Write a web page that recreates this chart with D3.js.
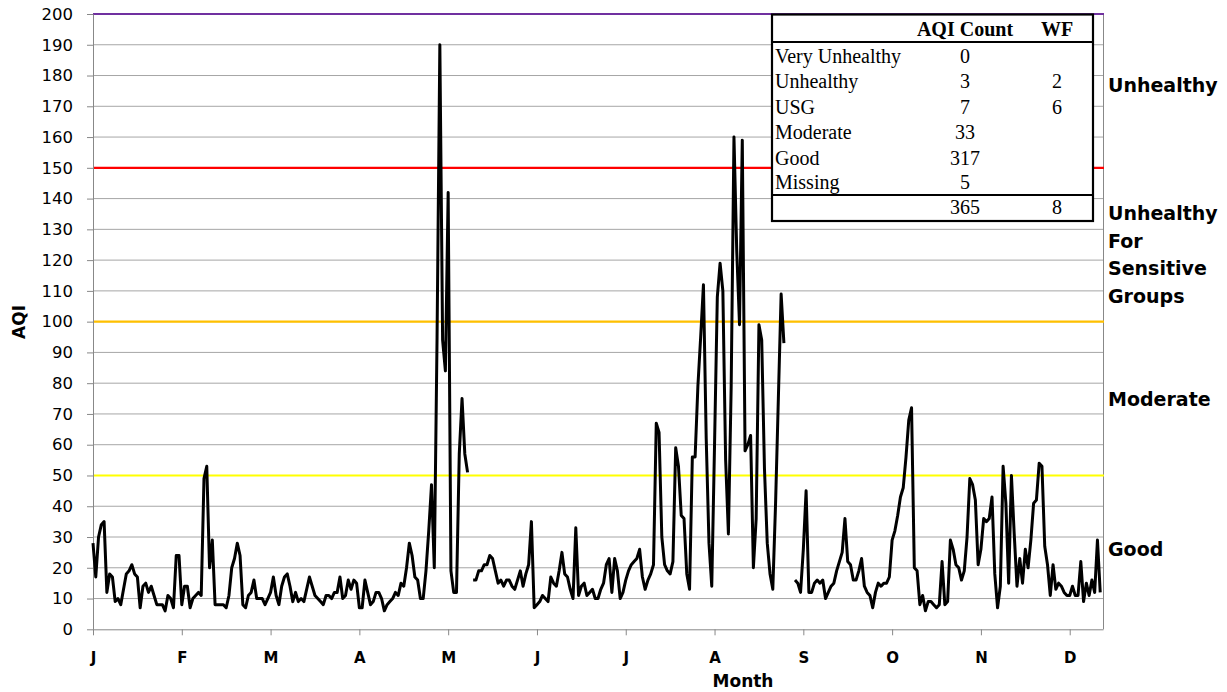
<!DOCTYPE html>
<html><head><meta charset="utf-8">
<script src="https://cdn.jsdelivr.net/npm/d3@7"></script>
<style>
html,body{margin:0;padding:0;background:#fff;}
svg{display:block;}
</style></head>
<body>
<svg id="chart" width="1227" height="692"></svg>
<script>
// ---- data ----
const aqi = [
28,17,30,34,35,12,18,17,9,10, 8,13,18,19,21,18,17,7,14,15,
12,14,11,8,8,8,6,11,10,7, 24,24,8,14,14,7,10,11,12,11,
49,53,20,29,8,8,8,8,7,11, 20,23,28,24,8,7,11,12,16,10,
10,10,8,10,12,17,11,8,14,17, 18,14,9,12,9,10,9,13,17,14,
11,10,9,8,11,11,10,12,12,17, 10,11,16,13,16,15,7,7,16,12,
8,9,12,12,10,6,8,9,10,12, 11,15,14,20,28,24,17,16,10,10,
19,32,47,20,95,190,94,84,142,19, 12,12,57,75,57,51,null,16,16,19,
19,21,21,24,23,19,15,16,14,16, 16,14,13,16,19,14,18,21,35,7,
8,9,11,10,9,17,15,14,19,25, 18,17,13,10,33,11,14,15,11,12,
13,10,10,13,15,21,23,12,23,19, 10,12,16,19,21,22,23,26,17,13,
16,18,21,67,64,30,21,19,18,22, 59,53,37,36,18,13,56,56,79,95,
112,62,28,14,60,108,119,110,55,31, 79,160,123,99,159,58,60,63,20,36,
99,94,52,28,18,13,41,75,109,93, null,null,null,16,15,12,26,45,12,12,
15,16,15,16,10,12,14,15,19,22, 25,36,22,21,16,16,19,23,14,12,
11,7,12,15,14,15,15,17,29,32, 37,43,46,56,68,72,20,19,8,11,
6,9,9,8,7,8,22,8,9,29, 26,21,20,16,19,30,49,47,42,21,
26,36,35,36,43,18,7,14,53,41, 15,50,31,14,23,15,26,20,29,41,
42,54,53,27,21,11,21,13,15,14, 12,11,11,14,11,11,22,9,15,11,
16,12,29,12,null
];
const tickDays = [0,32,64,96,128,160,192,224,256,288,320,352];
const tickLabels = ["J","F","M","A","M","J","J","A","S","O","N","D"];
const yTicks = d3.range(0,201,10);
const thresholdValues = [50,100,150,200];
const thresholdColors = ["#FFFF00","#FFC000","#FF0000","#7030A0"];
const tableCats = ["Very Unhealthy","Unhealthy","USG","Moderate","Good","Missing"];
const tableCounts = ["0","3","7","33","317","5"];
const tableWF = ["","2","6","","",""];
const tableTotals = ["365","8"];
const sideLabels = [
  {lines:["Unhealthy"], v:177},
  {lines:["Unhealthy","For","Sensitive","Groups"], v:121.8},
  {lines:["Moderate"], v:75},
  {lines:["Good"], v:26}
];

// ---- scales ----
const svg = d3.select("#chart");
const pL = 93, pR = 1103, pT = 14, pB = 629.3;
const x = d3.scaleLinear().domain([0, 364]).range([pL, pR]);
const y = d3.scaleLinear().domain([0, 200]).range([pB, pT]);

// gridlines
svg.append("g").selectAll("line").data(yTicks.filter(v => v > 0 && v < 200))
  .join("line")
  .attr("x1", pL).attr("x2", pR)
  .attr("y1", d => y(d)).attr("y2", d => y(d))
  .attr("stroke", "#a6a6a6").attr("stroke-width", 1);

// right border
svg.append("line").attr("x1", pR + 0.5).attr("x2", pR + 0.5)
  .attr("y1", pT).attr("y2", pB).attr("stroke", "#888").attr("stroke-width", 1);

// threshold lines
svg.append("g").selectAll("line").data(thresholdValues)
  .join("line")
  .attr("x1", pL).attr("x2", pR + 1)
  .attr("y1", d => y(d)).attr("y2", d => y(d))
  .attr("stroke", (d, i) => thresholdColors[i]).attr("stroke-width", 2.2);

// y axis
const yAxis = svg.append("g").attr("transform", `translate(${pL},0)`)
  .call(d3.axisLeft(y).tickValues(yTicks).tickSize(6).tickPadding(14).tickSizeOuter(0));
yAxis.select(".domain").attr("stroke", "#888");
yAxis.selectAll(".tick line").attr("stroke", "#888");
yAxis.selectAll(".tick text").attr("font-family", "DejaVu Sans").attr("font-size", "16.5px").attr("fill", "#000");

// x axis
const xAxis = svg.append("g").attr("transform", `translate(0,${pB})`)
  .call(d3.axisBottom(x).tickValues(tickDays).tickFormat((d, i) => tickLabels[i]).tickSize(6).tickSizeOuter(0).tickPadding(17));
xAxis.select(".domain").attr("stroke", "#888");
xAxis.selectAll(".tick line").attr("stroke", "#888");
xAxis.selectAll(".tick text").attr("font-family", "DejaVu Sans").attr("font-weight", "bold")
  .attr("font-size", "15px").attr("fill", "#000");

// data line
const line = d3.line().defined(d => d != null).x((d, i) => x(i)).y(d => y(d));
svg.append("path").datum(aqi).attr("d", line)
  .attr("fill", "none").attr("stroke", "#000").attr("stroke-width", 3)
  .attr("stroke-linejoin", "round");

// axis titles
svg.append("text").attr("x", 743).attr("y", 687).attr("text-anchor", "middle")
  .attr("font-family", "DejaVu Sans").attr("font-weight", "bold").attr("font-size", "17px").text("Month");
svg.append("text").attr("transform", "translate(25,322) rotate(-90)").attr("text-anchor", "middle")
  .attr("font-family", "DejaVu Sans").attr("font-weight", "bold").attr("font-size", "17px").text("AQI");

// side labels
const sl = svg.append("g").attr("font-family", "DejaVu Sans").attr("font-weight", "bold").attr("font-size", "19px");
sideLabels.forEach(s => {
  const n = s.lines.length, lh = 27.7;
  const y0 = y(s.v) - (n - 1) * lh / 2 + 7;
  s.lines.forEach((t, k) => {
    sl.append("text").attr("x", 1108).attr("y", y0 + k * lh).text(t);
  });
});

// table
const tb = svg.append("g").attr("font-family", "Liberation Serif").attr("font-size", "20px");
const tx0 = 772, tx1 = 1093, ty0 = 14.5, ty1 = 221;
tb.append("rect").attr("x", tx0).attr("y", ty0).attr("width", tx1 - tx0).attr("height", ty1 - ty0)
  .attr("fill", "#fff").attr("stroke", "#000").attr("stroke-width", 2.2);
tb.append("line").attr("x1", tx0).attr("x2", tx1).attr("y1", 42).attr("y2", 42).attr("stroke", "#000").attr("stroke-width", 2.2);
tb.append("line").attr("x1", tx0).attr("x2", tx1).attr("y1", 195).attr("y2", 195).attr("stroke", "#000").attr("stroke-width", 2.2);
const cCount = 965, cWF = 1057;
tb.append("text").attr("x", cCount).attr("y", 36).attr("text-anchor", "middle").attr("font-weight", "bold").text("AQI Count");
tb.append("text").attr("x", cWF).attr("y", 36).attr("text-anchor", "middle").attr("font-weight", "bold").text("WF");
const rowBase = [62.5, 88, 113.5, 139, 164.5, 189];
tableCats.forEach((c, i) => {
  tb.append("text").attr("x", 775).attr("y", rowBase[i]).text(c);
  tb.append("text").attr("x", cCount).attr("y", rowBase[i]).attr("text-anchor", "middle").text(tableCounts[i]);
  if (tableWF[i]) tb.append("text").attr("x", cWF).attr("y", rowBase[i]).attr("text-anchor", "middle").text(tableWF[i]);
});
tb.append("text").attr("x", cCount).attr("y", 214).attr("text-anchor", "middle").text(tableTotals[0]);
tb.append("text").attr("x", cWF).attr("y", 214).attr("text-anchor", "middle").text(tableTotals[1]);
</script>
</body></html>
